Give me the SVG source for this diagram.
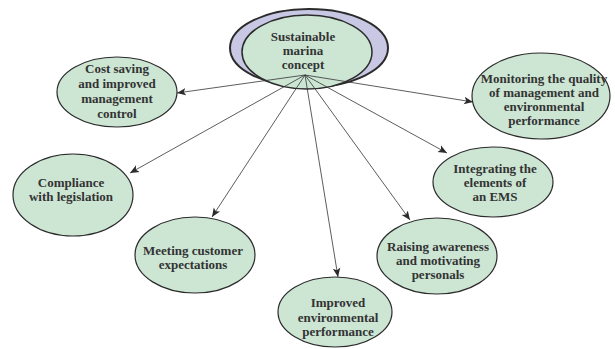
<svg xmlns="http://www.w3.org/2000/svg" width="615" height="349" viewBox="0 0 615 349">
<defs>
<marker id="arr" viewBox="0 0 10 10" refX="10" refY="5" markerWidth="9" markerHeight="9" markerUnits="userSpaceOnUse" orient="auto">
<path d="M0,0.8 L10,5 L0,9.2 L2.5,5 Z" fill="#2b2b2b"/>
</marker>
<style>
.node ellipse{fill:#cde6d4;stroke:#2b2b2b;stroke-width:1.2}
text{font-family:"Liberation Serif","Times New Roman",serif;font-weight:bold;font-size:13px;fill:#333;text-anchor:middle}
.conn line{stroke:#333;stroke-width:0.8;marker-end:url(#arr)}
</style>
</defs>
<rect width="615" height="349" fill="#fff"/>
<g id="center">
<ellipse cx="309" cy="48" rx="79" ry="39" fill="#c8c8e4" stroke="#2b2b2b" stroke-width="2"/>
<ellipse cx="307" cy="52" rx="65" ry="37" fill="#cde6d4" stroke="#2b2b2b" stroke-width="1.5"/>
<text x="303" y="41">Sustainable</text>
<text x="303" y="55">marina</text>
<text x="303" y="69">concept</text>
</g>
<g class="conn" id="connectors">
<line x1="305" y1="75" x2="177" y2="93"/>
<line x1="305" y1="75" x2="130" y2="173"/>
<line x1="305" y1="75" x2="212" y2="217"/>
<line x1="305" y1="75" x2="338" y2="277"/>
<line x1="305" y1="75" x2="410" y2="220"/>
<line x1="305" y1="75" x2="447" y2="153"/>
<line x1="305" y1="75" x2="473" y2="102"/>
</g>
<g class="node" id="cost">
<ellipse cx="117" cy="92" rx="60" ry="35"/>
<text x="117" y="73">Cost saving</text>
<text x="117" y="88">and improved</text>
<text x="117" y="103">management</text>
<text x="117" y="118">control</text>
</g>
<g class="node" id="compliance">
<ellipse cx="73" cy="195" rx="60" ry="41"/>
<text x="71" y="187">Compliance</text>
<text x="71" y="201">with legislation</text>
</g>
<g class="node" id="meeting">
<ellipse cx="195" cy="255" rx="60" ry="38"/>
<text x="193" y="255">Meeting customer</text>
<text x="193" y="269">expectations</text>
</g>
<g class="node" id="improved">
<ellipse cx="335" cy="312" rx="57" ry="35"/>
<text x="338" y="307">Improved</text>
<text x="338" y="322">environmental</text>
<text x="338" y="336">performance</text>
</g>
<g class="node" id="raising">
<ellipse cx="437" cy="256" rx="60" ry="38"/>
<text x="438" y="251">Raising awareness</text>
<text x="438" y="265">and motivating</text>
<text x="438" y="279">personals</text>
</g>
<g class="node" id="integrating">
<ellipse cx="493" cy="182" rx="60" ry="35"/>
<text x="495" y="173">Integrating the</text>
<text x="495" y="187">elements of</text>
<text x="495" y="201">an EMS</text>
</g>
<g class="node" id="monitoring">
<ellipse cx="541" cy="96" rx="69" ry="43"/>
<text x="544" y="83" font-size="12.6">Monitoring the quality</text>
<text x="544" y="97" font-size="12.6">of management and</text>
<text x="544" y="111" font-size="12.6">environmental</text>
<text x="544" y="125" font-size="12.6">performance</text>
</g>
</svg>
